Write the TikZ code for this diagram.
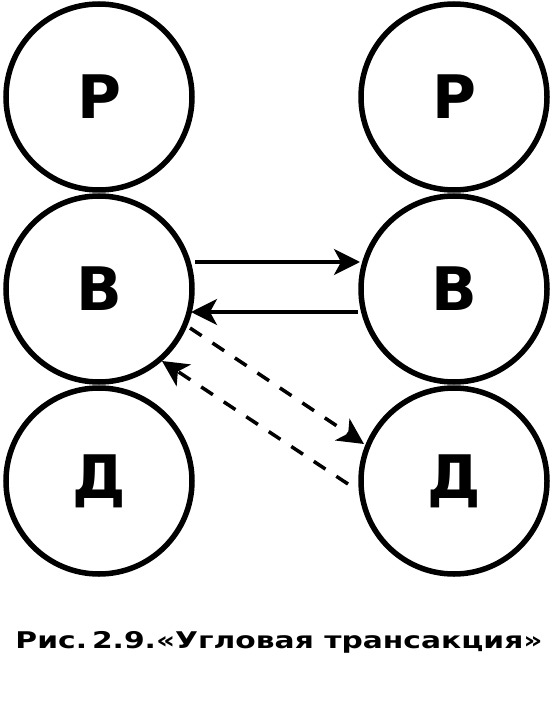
\documentclass[tikz,border=0pt]{standalone}
\usepackage{fontspec}
\setmainfont{DejaVu Sans}
\usetikzlibrary{arrows.meta}
\tikzset{
  ego/.style={circle, draw, line width=5.5pt, minimum size=186pt, inner sep=0pt, font=\fontsize{60}{64}\selectfont\bfseries},
  link/.style={line width=3.5pt, -{Stealth[length=26pt,width=26pt,inset=7pt]}},
  dlink/.style={link, dash pattern=on 14pt off 13pt}
}
\begin{document}
\begin{tikzpicture}[x=1pt,y=-1pt]
\useasboundingbox (0,0) rectangle (552,708);
\node[ego] (p1) at (99,97) {Р};
\node[ego] (b1) at (99,289) {В};
\node[ego] (d1) at (99,481) {Д};
\node[ego] (p2) at (454,97) {Р};
\node[ego] (b2) at (454,289) {В};
\node[ego] (d2) at (454,481) {Д};
\coordinate (s1) at (195,262);
\coordinate (e1) at (360,262);
\coordinate (s2) at (358,312);
\coordinate (e2) at (191,312);
\coordinate (s3) at (190,328);
\coordinate (e3) at (364,444);
\coordinate (s4) at (348,484);
\coordinate (e4) at (162,361);
\draw[link] (s1) -- (e1);
\draw[link] (s2) -- (e2);
\draw[dlink] (s3) -- (e3);
\draw[dlink] (s4) -- (e4);
\node[anchor=base, inner sep=0pt] (cap) at (279,648) {\resizebox{527pt}{\height}{\fontsize{23}{26}\selectfont\bfseries Рис.\,2.9.«Угловая трансакция»}};
\end{tikzpicture}
\end{document}
